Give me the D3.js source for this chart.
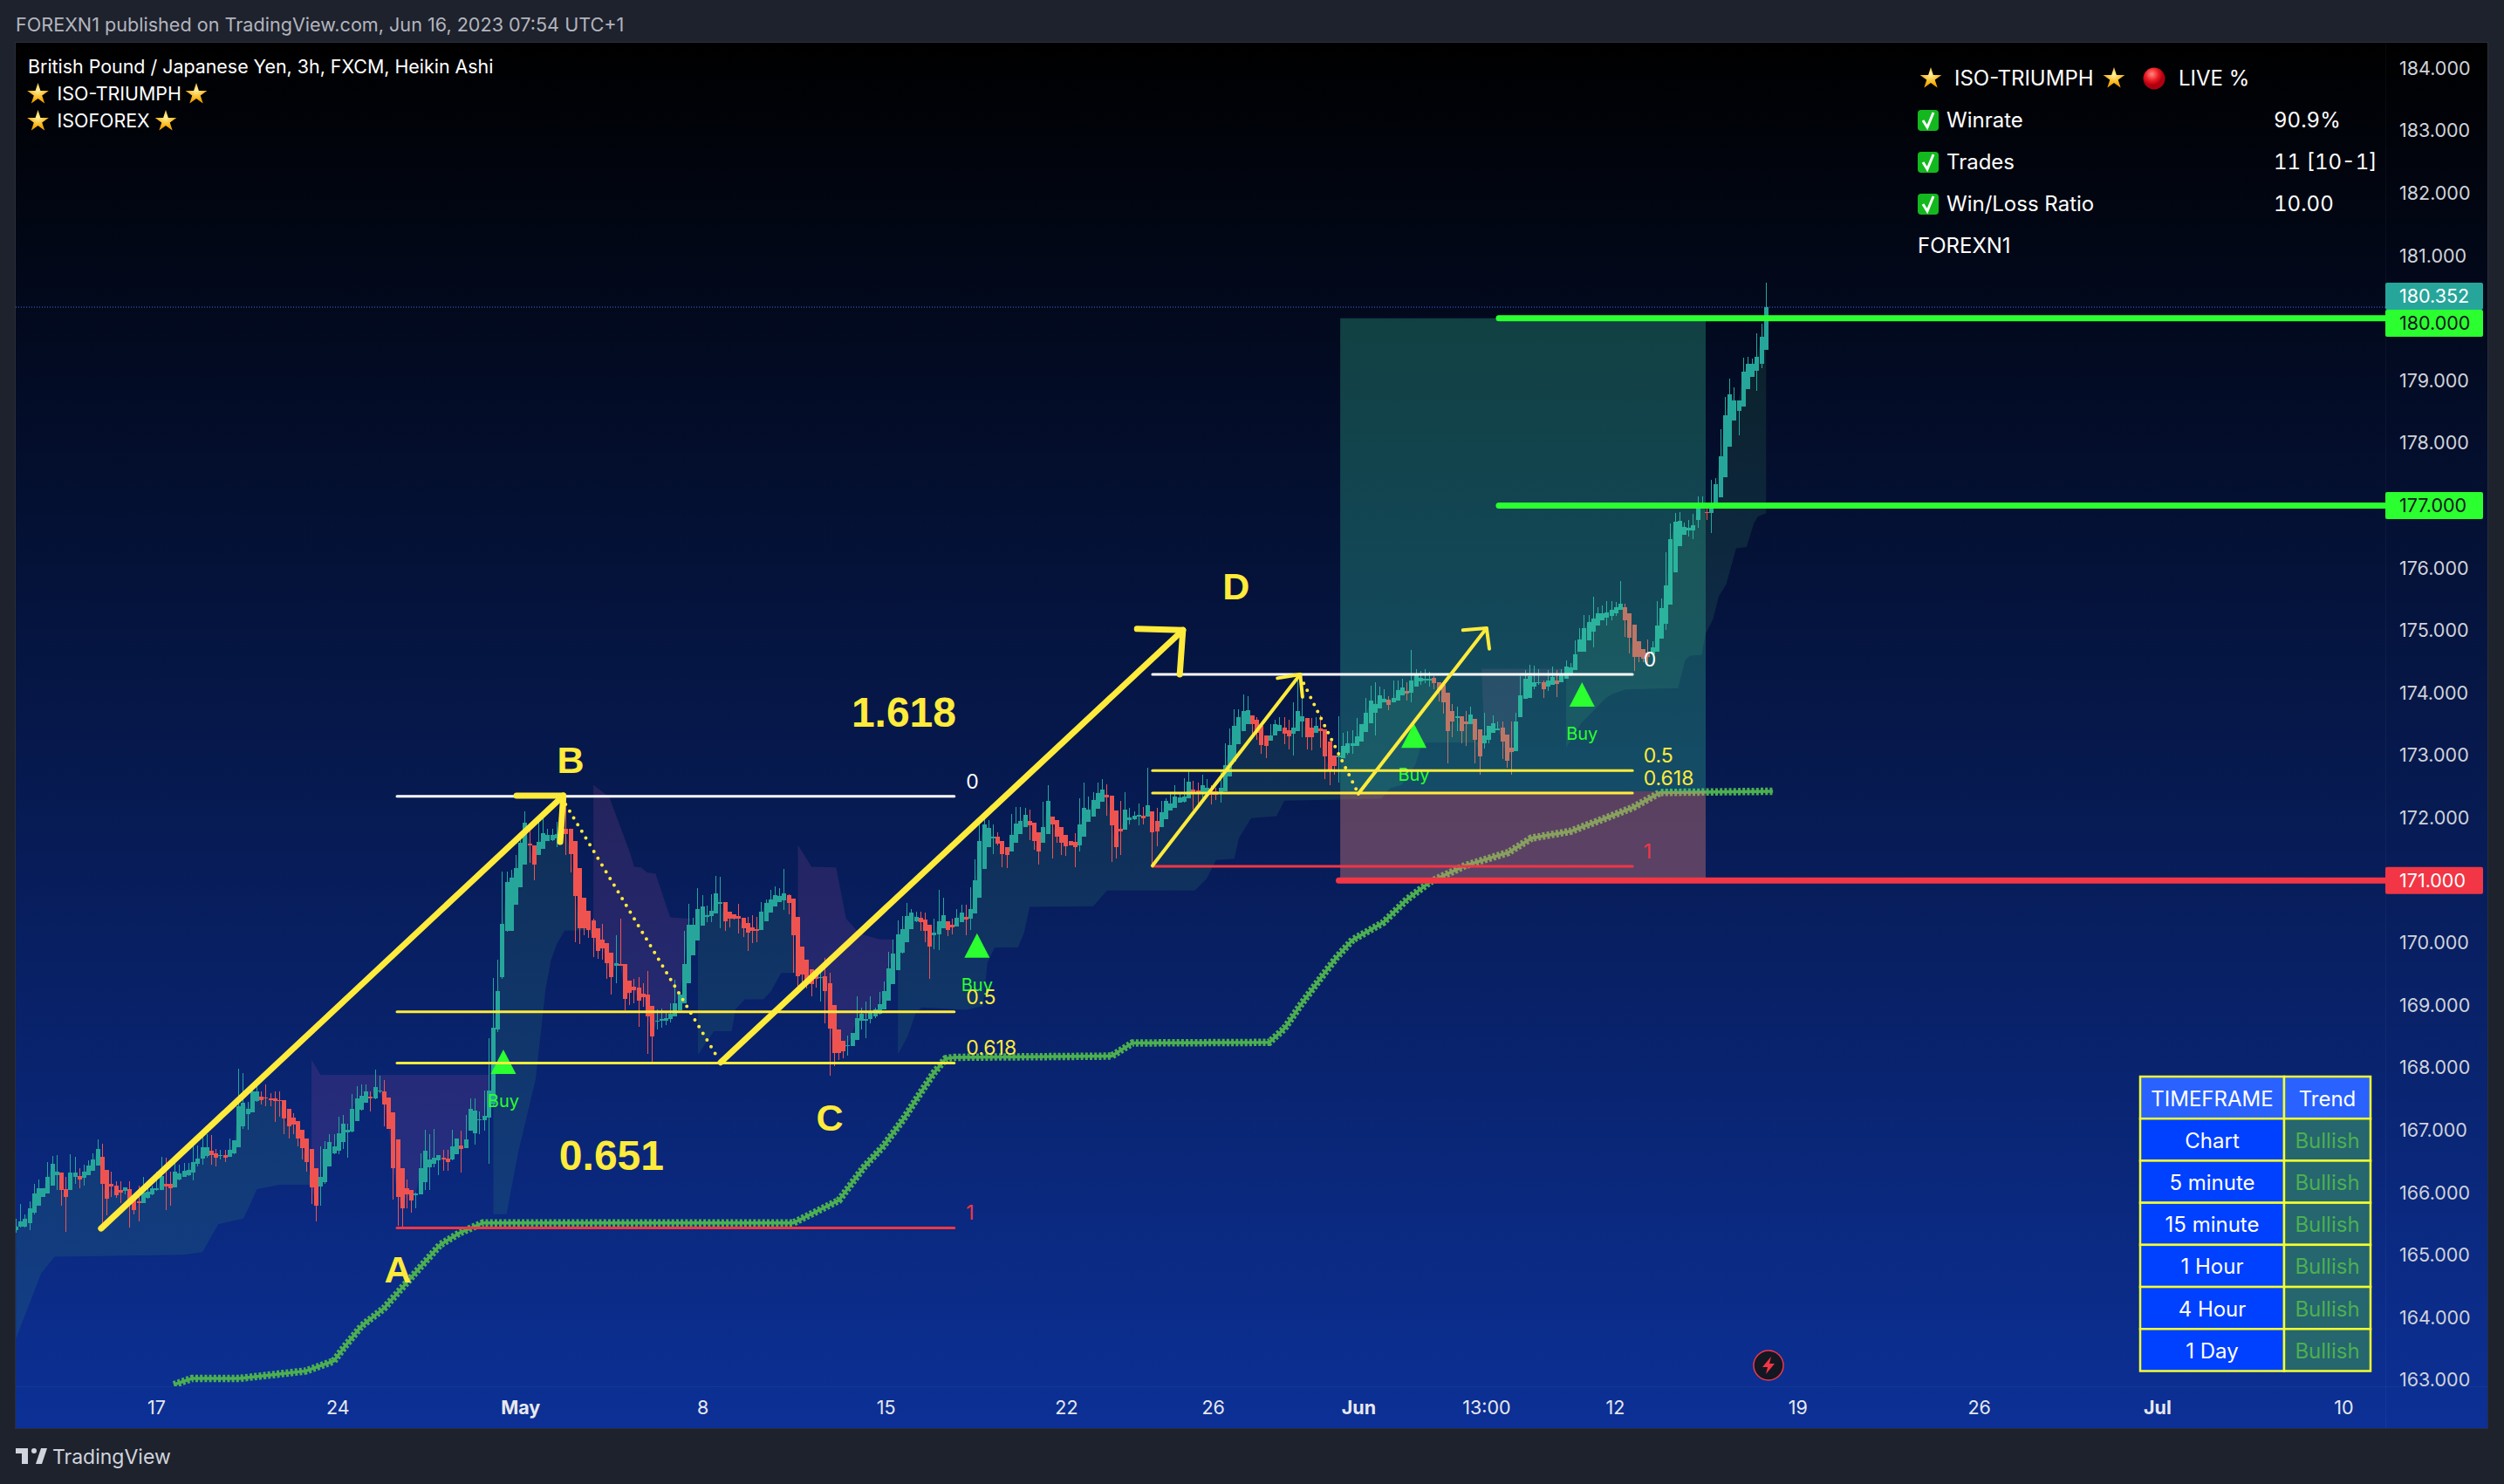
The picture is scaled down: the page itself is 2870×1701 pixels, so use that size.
<!DOCTYPE html>
<html>
<head>
<meta charset="utf-8">
<script src="https://d3js.org/d3.v7.min.js"></script>
<style>
  html, body { margin: 0; padding: 0; background: #1e222d; overflow: hidden; }
  svg { display: block; font-family: Inter, "Noto Sans", sans-serif; }
</style>
</head>
<body>
<svg id="chart" width="2870" height="1701"></svg>
<script>
// GBPJPY 3h Heikin Ashi bars, 10 bars per row
const candleOpen = [
165.38,165.43,165.43,165.49,165.65,165.77,165.91,165.96,166.09,166.25,
166.29,166.03,166.02,166.23,166.24,166.21,166.25,166.33,166.41,166.55,
166.34,166.12,166.09,166.02,166.00,166.03,165.89,165.83,165.81,165.89,
165.94,166.01,166.01,166.12,166.11,166.06,166.19,166.22,166.26,166.30,
166.44,166.52,166.56,166.64,166.60,166.57,166.58,166.55,166.61,166.70,
167.03,167.23,167.26,167.44,167.51,167.50,167.48,167.48,167.46,167.45,
167.31,167.17,167.12,166.98,166.84,166.67,166.37,166.07,166.14,166.40,
166.60,166.65,166.78,166.94,166.95,167.12,167.30,167.42,167.51,167.48,
167.59,167.60,167.50,167.26,166.82,166.37,166.04,166.01,165.93,165.94,
166.14,166.38,166.43,166.49,166.54,166.52,166.50,166.59,166.73,166.69,
166.96,166.93,167.13,167.14,167.17,167.38,168.59,169.42,170.17,170.17,
170.59,170.87,171.22,171.56,171.54,171.38,171.48,171.61,171.62,171.64,
171.66,171.80,171.80,171.60,171.17,170.69,170.49,170.33,170.21,170.03,
169.97,169.81,169.61,169.63,169.63,169.37,169.27,169.26,169.16,169.14,
168.96,168.71,168.72,168.73,168.75,168.79,168.89,169.01,169.32,169.77,
170.01,170.25,170.40,170.40,170.45,170.60,170.62,170.47,170.43,170.40,
170.37,170.29,170.22,170.19,170.18,170.32,170.46,170.56,170.63,170.66,
170.74,170.68,170.39,169.92,169.70,169.55,169.45,169.41,169.44,169.33,
168.98,168.59,168.41,168.32,168.32,168.42,168.72,168.72,168.75,168.79,
168.84,168.91,169.05,169.31,169.54,169.82,169.99,170.19,170.32,170.37,
170.35,170.26,170.09,170.11,170.20,170.32,170.26,170.24,170.31,170.39,
170.36,170.44,170.69,171.15,171.51,171.65,171.67,171.61,171.50,171.44,
171.57,171.71,171.82,171.93,171.89,171.75,171.58,171.71,171.99,171.94,
171.82,171.70,171.61,171.59,171.54,171.68,171.91,171.99,172.12,172.23,
172.34,172.33,172.09,171.80,171.79,171.94,171.95,171.99,172.01,171.99,
172.08,171.92,171.82,171.95,172.09,172.13,172.22,172.23,172.29,172.43,
172.41,172.38,172.38,172.40,172.40,172.38,172.40,172.64,172.88,173.16,
173.37,173.47,173.61,173.54,173.45,173.29,173.21,173.29,173.37,173.42,
173.38,173.32,173.37,173.52,173.57,173.42,173.33,173.40,173.39,173.20,
172.97,172.95,172.93,173.01,173.12,173.12,173.20,173.35,173.49,173.65,
173.73,173.83,173.87,173.82,173.85,173.94,174.01,173.98,174.08,174.16,
174.18,174.17,174.21,174.15,174.10,173.98,173.68,173.59,173.60,173.51,
173.47,173.56,173.39,173.17,173.22,173.34,173.39,173.42,173.31,173.10,
173.04,173.58,173.88,173.89,174.07,174.13,174.15,174.07,174.10,174.18,
174.15,174.20,174.28,174.34,174.64,174.64,174.82,174.96,175.06,175.14,
175.18,175.21,175.25,175.30,175.35,175.25,175.07,174.80,174.68,174.62,
174.59,174.64,174.85,175.08,175.39,175.91,176.33,176.51,176.57,176.58,
176.75,176.92,176.87,176.86,176.92,177.11,177.43,177.92,178.33,178.49,
178.56,178.84,179.04,179.13,179.25,179.46];
const candleClose = [
165.43,165.52,165.56,165.73,165.96,166.04,166.04,166.23,166.44,166.31,
166.01,165.90,166.29,166.30,166.18,166.31,166.41,166.50,166.68,166.12,
165.88,166.07,165.93,165.98,166.06,165.82,165.70,165.81,165.98,165.99,
166.04,166.04,166.24,166.07,166.05,166.31,166.28,166.33,166.34,166.46,
166.52,166.70,166.70,166.58,166.54,166.58,166.54,166.66,166.81,167.36,
167.42,167.32,167.59,167.59,167.46,167.48,167.46,167.44,167.44,167.16,
167.03,167.07,166.84,166.69,166.47,166.06,165.77,166.22,166.68,166.78,
166.72,166.92,167.08,166.98,167.31,167.48,167.52,167.60,167.49,167.67,
167.61,167.38,167.00,166.37,165.90,165.73,165.95,165.85,165.96,166.36,
166.65,166.50,166.54,166.58,166.50,166.47,166.72,166.84,166.67,166.82,
167.31,167.29,167.15,167.20,167.61,168.61,169.20,170.28,170.94,171.02,
171.17,171.57,171.90,171.53,171.22,171.59,171.73,171.70,171.70,171.71,
171.87,171.71,171.39,170.73,170.21,170.21,170.18,170.05,169.84,169.89,
169.65,169.42,169.65,169.62,169.07,169.18,169.22,169.05,169.11,168.79,
168.47,168.73,168.75,168.77,168.84,169.01,169.14,169.63,170.26,170.26,
170.51,170.55,170.41,170.49,170.76,170.63,170.32,170.36,170.36,170.36,
170.21,170.14,170.16,170.17,170.47,170.61,170.67,170.74,170.73,170.77,
170.61,170.09,169.44,169.47,169.38,169.31,169.40,169.43,169.20,168.60,
168.21,168.21,168.24,168.34,168.53,168.77,168.84,168.76,168.86,168.91,
168.99,169.20,169.56,169.80,170.11,170.19,170.40,170.46,170.39,170.31,
170.17,169.92,170.13,170.32,170.42,170.18,170.22,170.38,170.46,170.35,
170.51,170.98,171.61,171.87,171.81,171.67,171.56,171.39,171.38,171.70,
171.88,171.92,172.02,171.86,171.60,171.43,171.82,172.25,171.87,171.68,
171.58,171.52,171.54,171.50,171.87,172.13,172.10,172.26,172.37,172.43,
172.30,171.85,171.51,171.76,172.10,171.98,172.01,172.02,171.96,172.18,
171.75,171.76,172.06,172.24,172.20,172.31,172.30,172.31,172.55,172.37,
172.37,172.50,172.45,172.35,172.35,172.45,172.82,173.14,173.45,173.59,
173.68,173.70,173.47,173.33,173.14,173.13,173.30,173.47,173.46,173.32,
173.28,173.42,173.68,173.60,173.27,173.27,173.44,173.37,172.96,172.75,
172.81,172.97,173.13,173.17,173.17,173.28,173.47,173.65,173.85,173.80,
173.93,173.88,173.78,173.90,174.02,174.06,173.96,174.17,174.27,174.21,
174.20,174.20,174.13,174.03,173.82,173.37,173.51,173.60,173.37,173.47,
173.63,173.23,172.96,173.29,173.44,173.49,173.40,173.19,172.89,173.03,
173.51,173.93,174.20,174.24,174.15,174.15,174.03,174.17,174.23,174.12,
174.27,174.40,174.38,174.59,174.83,175.01,175.11,175.17,175.25,175.25,
175.26,175.30,175.34,175.40,175.14,174.86,174.55,174.55,174.52,174.55,
174.70,175.05,175.33,175.70,176.43,176.71,176.73,176.63,176.62,176.66,
176.94,177.01,176.86,176.92,177.32,177.76,178.42,178.75,178.66,178.66,
179.12,179.24,179.24,179.36,179.68,180.15];
const candleHigh = [
165.56,165.80,165.63,165.84,166.12,166.19,166.05,166.47,166.56,166.58,
166.29,166.22,166.59,166.55,166.36,166.42,166.49,166.61,166.83,166.76,
166.34,166.31,166.16,166.16,166.06,166.15,165.89,166.09,166.22,166.12,
166.08,166.31,166.55,166.53,166.31,166.54,166.42,166.45,166.45,166.71,
166.73,166.91,166.91,166.89,166.68,166.66,166.66,166.84,166.81,167.96,
167.89,167.43,167.68,167.71,167.60,167.70,167.57,167.59,167.60,167.45,
167.31,167.24,167.12,166.98,166.84,166.67,166.37,166.71,166.80,166.91,
166.91,167.19,167.22,167.08,167.55,167.68,167.71,167.71,167.60,167.95,
167.84,167.77,167.50,167.26,166.82,166.37,166.18,166.01,165.98,166.61,
166.98,166.91,166.99,166.58,166.66,166.66,166.98,166.84,166.96,167.22,
167.49,167.49,167.28,167.61,168.44,169.41,169.71,171.11,171.12,171.14,
171.38,171.75,172.08,171.78,171.54,171.89,171.96,171.80,171.80,171.91,
171.91,172.31,171.80,171.60,171.17,170.69,170.49,170.36,170.21,170.27,
169.97,169.81,170.09,170.36,169.63,169.37,169.40,169.42,169.32,169.52,
168.96,168.91,168.92,168.87,169.01,169.38,169.19,170.17,170.60,170.38,
170.85,170.74,170.57,170.75,171.05,171.03,170.62,170.47,170.43,170.60,
170.37,170.39,170.42,170.39,170.62,170.67,170.82,170.88,170.85,171.16,
170.75,170.68,170.39,169.92,169.70,169.55,169.47,169.52,169.73,169.50,
168.98,168.59,168.41,168.49,168.53,169.12,168.94,169.03,169.12,168.93,
169.19,169.35,169.83,170.03,170.33,170.40,170.61,170.51,170.47,170.47,
170.46,170.26,170.36,170.82,170.70,170.32,170.36,170.51,170.59,170.59,
170.87,171.31,171.89,171.96,171.94,171.87,171.74,171.61,171.50,172.03,
172.15,172.15,172.13,172.10,171.89,171.75,172.23,172.50,171.99,171.94,
171.82,171.70,171.61,171.73,172.29,172.54,172.31,172.39,172.54,172.60,
172.51,172.33,172.09,172.24,172.38,172.13,172.08,172.20,172.15,172.78,
172.08,172.13,172.24,172.29,172.36,172.50,172.37,172.61,172.75,172.57,
172.54,172.67,172.60,172.50,172.46,172.75,173.17,173.41,173.71,173.71,
173.95,173.92,173.61,173.59,173.45,173.29,173.47,173.54,173.59,173.59,
173.54,173.82,174.17,173.93,173.57,173.57,173.58,173.62,173.39,173.20,
172.97,173.60,173.34,173.37,173.38,173.57,173.47,173.90,174.09,174.15,
174.07,174.03,173.92,174.17,174.17,174.20,174.15,174.66,174.36,174.32,
174.35,174.31,174.24,174.15,174.10,173.98,173.80,173.75,173.60,173.68,
173.75,173.56,173.39,173.65,173.44,173.61,173.52,173.51,173.31,173.51,
173.65,174.24,174.34,174.42,174.41,174.35,174.17,174.34,174.40,174.34,
174.36,174.49,174.45,174.81,175.01,175.22,175.22,175.52,175.35,175.38,
175.44,175.44,175.43,175.76,175.40,175.25,175.07,174.80,174.68,174.83,
174.80,175.44,175.49,176.22,176.69,176.85,176.87,176.70,176.74,176.84,
177.12,177.12,176.94,177.39,177.41,178.19,178.71,179.01,178.87,178.66,
179.34,179.36,179.33,179.73,179.88,180.54];
const candleLow = [
165.33,165.42,165.41,165.38,165.63,165.77,165.91,165.96,166.08,166.01,
165.77,165.35,166.01,166.12,166.04,166.08,166.25,166.32,166.41,165.47,
165.61,165.91,165.89,165.81,165.94,165.41,165.63,165.51,165.81,165.88,
165.93,166.00,166.01,165.70,165.76,166.06,166.17,166.22,166.24,166.17,
166.40,166.42,166.54,166.42,166.40,166.50,166.47,166.55,166.59,166.70,
167.00,166.98,167.26,167.43,167.38,167.36,167.36,167.11,167.19,166.91,
166.84,166.91,166.71,166.50,166.31,165.79,165.51,165.77,166.12,166.40,
166.59,166.59,166.68,166.54,166.94,167.12,167.29,167.42,167.28,167.47,
167.57,167.03,167.00,165.86,165.45,165.43,165.73,165.65,165.72,165.94,
166.01,166.01,166.38,166.26,166.33,166.33,166.49,166.59,166.30,166.69,
166.96,166.75,166.91,166.96,166.43,167.35,168.55,169.40,170.15,170.17,
170.59,170.87,171.22,171.26,170.98,171.38,171.48,171.61,171.61,171.50,
171.64,171.38,171.10,169.98,169.95,170.10,170.05,169.75,169.72,169.71,
169.39,169.14,169.32,169.62,168.90,168.98,169.00,168.63,168.95,168.19,
168.04,168.59,168.61,168.66,168.70,168.79,168.89,169.01,169.32,169.77,
170.01,170.25,170.31,170.31,170.45,170.21,170.17,170.22,170.35,170.12,
170.07,169.84,169.97,169.98,170.18,170.32,170.46,170.56,170.63,170.50,
170.43,169.50,169.24,169.25,169.24,169.12,169.26,169.03,168.68,167.85,
168.00,168.10,168.12,168.17,168.32,168.42,168.58,168.44,168.68,168.77,
168.82,168.91,169.05,169.31,169.54,169.80,169.99,170.19,170.31,170.17,
169.98,169.39,169.87,169.86,170.20,170.08,170.11,170.24,170.31,170.10,
170.18,170.44,170.69,171.15,171.51,171.40,171.54,171.18,171.17,171.44,
171.57,171.71,171.82,171.62,171.46,171.23,171.58,171.71,171.32,171.58,
171.38,171.36,171.54,171.18,171.43,171.68,171.91,171.99,172.12,172.23,
172.01,171.27,171.33,171.38,171.79,171.87,171.94,171.85,171.87,171.99,
171.22,171.52,171.82,171.95,172.09,172.13,172.22,172.22,172.29,172.10,
172.19,172.29,172.38,172.19,172.26,172.22,172.40,172.64,172.88,173.16,
173.37,173.47,173.24,173.23,173.00,172.93,173.21,173.29,173.37,173.16,
173.07,172.97,173.37,173.27,173.07,173.05,173.33,173.10,172.60,172.50,
172.66,172.54,172.93,172.99,173.00,173.12,173.20,173.35,173.49,173.29,
173.73,173.82,173.70,173.82,173.85,173.93,173.85,173.82,174.08,174.10,
174.13,174.08,174.03,173.84,173.64,172.84,173.27,173.37,173.17,173.13,
173.47,172.85,172.67,173.09,173.17,173.34,173.38,172.92,172.78,172.66,
173.04,173.58,173.88,173.89,174.03,174.10,173.89,174.00,174.10,173.91,
174.15,174.20,174.24,174.34,174.64,174.64,174.82,174.71,175.06,175.14,
175.06,175.13,175.20,175.30,174.87,174.61,174.33,174.47,174.46,174.45,
174.59,174.64,174.85,174.99,175.39,175.91,176.33,176.50,176.48,176.43,
176.62,176.92,176.74,176.53,176.92,177.11,177.43,177.92,178.33,178.10,
178.56,178.84,179.04,178.81,179.18,179.46];

// trailing stop band, [bar, price] breakpoints. green sits under the closes, purple above
const greenBands = [
  [[0,163.64],[5.5,164.68],[8.5,164.95],[36.8,164.98],[41,165.02],[44.5,165.47],[50,165.56],[51.3,165.75],[53,166.03],[58,166.10],[65,166.10]],
  [[105,165.63],[107.9,165.63],[110.5,166.63],[114.3,167.79],[116.5,169.24],[117.7,169.70],[119,169.96],[120.7,170.17],[127,170.18]],
  [[150,168.18],[153.5,168.56],[157.4,168.56],[158.3,168.91],[160.3,169.07],[164.4,169.07],[166,169.19],[168.3,169.49],[171.5,169.49]],
  [[194,168.19],[196.1,168.47],[198,168.87],[199.3,168.94],[209,168.90],[212.7,168.96],[213.7,169.66],[215.3,169.90],[220.4,169.90],[221.7,170.12],[223,170.55],[237,170.56],[240,170.81],[259.3,170.81],[261.9,171.00],[264,171.30],[268,171.32],[269,171.65],[271.7,171.97],[277.3,172.00],[279,172.25],[300.4,172.28],[302.3,172.45],[304.8,172.50],[307.8,172.82],[309,173.10],[310.4,173.18],[322,173.18]],
  [[341,173.10],[344.4,173.50],[346.1,173.62],[349.7,173.89],[351.2,173.96],[354.1,174.03],[365.6,174.05],[367.2,174.50],[368.2,174.57],[370.8,174.58],[371.7,174.92],[373.3,175.15],[374.6,175.52],[376.2,175.71],[378.4,176.29],[380.7,176.31],[382.3,176.69],[383.2,176.80],[385,176.85]]
];
const purpleBands = [
  [[65,168.10],[67,167.86],[104,167.86]],
  [[127,172.50],[130.5,172.31],[135,171.43],[136,171.19],[137.5,171.18],[138.8,171.10],[140.7,171.08],[143.9,170.38],[148.4,170.36]],
  [[172,171.54],[175,171.19],[180.4,171.18],[182.6,170.36],[185.6,170.12],[190,170.03],[193,170.03]],
  [[322.4,174.36],[341,174.36]]
];
// green stepped stop line
const stopLine = [[34.7,162.90],[38.7,163.00],[49.1,163.00],[54,163.04],[63.8,163.12],[69.9,163.28],[72.3,163.51],[76,163.84],[80.9,164.12],[87.7,164.68],[93.3,165.14],[97.6,165.33],[102.7,165.49],[171,165.49],[181,165.85],[186.5,166.38],[190.8,166.72],[195.1,167.14],[198.5,167.52],[201.9,167.89],[204.5,168.12],[206.3,168.14],[241,168.16],[245.6,168.37],[275.7,168.38],[279,168.60],[282.8,169.00],[287,169.41],[290.5,169.74],[294,170.02],[300.8,170.30],[306,170.67],[311.1,170.95],[318.8,171.21],[328.3,171.42],[333.4,171.65],[342,171.76],[349.7,171.97],[355.7,172.14],[361.7,172.38],[386.5,172.40]];

// axes, 171 177 and 180 are covered by the order tags
const priceTicks = [163,164,165,166,167,168,169,170,172,173,174,175,176,178,179,181,182,183,184];
const timeBars = [30.8,70.7,110.9,151,191.3,231,263.3,295.3,323.4,351.7,391.9,431.8,471,512];
const timeLabels = ["17","24","May","8","15","22","26","Jun","13:00","12","19","26","Jul","10"];
const monthLabels = ["May","Jun","Jul"];

// drawing tools
const fibA = { bars: [83.8,206.4], labelBar: 209, prices: [172.32,168.87,168.05,165.41], ratios: ["0","0.5","0.618","1"] };
const fibB = { bars: [250,355.6], labelBar: 358, prices: [174.27,172.73,172.37,171.20], ratios: ["0","0.5","0.618","1"] };
const arrows = [
  { width: 7, shaft: [[18.7,165.40],[120.4,172.33]], head: [[110.1,172.33],[120.4,172.33],[119.7,171.59]] },
  { width: 7, shaft: [[155,168.06],[256.7,174.98]], head: [[246.6,175.00],[256.7,174.98],[256,174.27]] },
  { width: 4, shaft: [[250,171.21],[282.5,174.27]], head: [[277.5,174.21],[282.5,174.27],[283,173.91]] },
  { width: 4, shaft: [[295.3,172.36],[323.5,175.01]], head: [[318.3,174.98],[323.5,175.01],[324.1,174.68]] }
];
const dottedLegs = [
  [[120.9,172.19],[153.8,168.20]],
  [[282.5,174.24],[295.3,172.36]]
];
const waveLabels = ["A","B","C","D","0.651","1.618"];
const waveBars = [84,122,179,268.4,131,195.3];
const wavePrices = [164.74,172.90,167.18,175.68,166.57,173.67];
const buyBars = [107.2,211.4,307.5,344.5];
const buyPrices = [168.07,169.93,173.29,173.95];

const longBox = { bars: [291.3,371.7], target: 180, entry: 172.4, stop: 171 };
const levelPrices = [180,177,171];
const levelBars = [326.2,326.2,291];
const levelColors = ["#2bff2f","#2bff2f","#f23645"];
const levelText = ["#131722","#131722","#ffffff"];
const lastPrice = 180.352;
const lastCloseHA = 180.15;

// tables
const statNames = ["Winrate","Trades","Win/Loss Ratio"];
const statValues = ["90.9%","11 [10-1]","10.00"];
const trendRows = ["Chart","5 minute","15 minute","1 Hour","4 Hour","1 Day"];
const trendValues = ["Bullish","Bullish","Bullish","Bullish","Bullish","Bullish"];

const svg = d3.select("#chart");
const plot = { left: 18, right: 2734, top: 49, bottom: 1589, edge: 2851, floor: 1637 };

const x = d3.scaleLinear().domain([0, 385]).range([18.4, 2024.3]);
const y = d3.scaleLinear().domain([163, 184]).range([1580, 76.4]);
// the axis and the order lines sit a touch lower than the bars in the screenshot
const axisNudge = 2;

const defs = svg.append("defs");
const bg = defs.append("linearGradient").attr("id", "bg").attr("x1", 0).attr("x2", 0).attr("y1", 0).attr("y2", 1);
bg.append("stop").attr("offset", 0).attr("stop-color", "#000000");
bg.append("stop").attr("offset", 1).attr("stop-color", "#0c3096");
const starFill = defs.append("radialGradient").attr("id", "starFill").attr("cy", 0.35);
starFill.append("stop").attr("offset", 0).attr("stop-color", "#fff2a0");
starFill.append("stop").attr("offset", 1).attr("stop-color", "#f7a900");
const redBall = defs.append("radialGradient").attr("id", "redBall").attr("cx", 0.4).attr("cy", 0.3);
redBall.append("stop").attr("offset", 0).attr("stop-color", "#ff8a80");
redBall.append("stop").attr("offset", 0.6).attr("stop-color", "#ee1c25");
redBall.append("stop").attr("offset", 1).attr("stop-color", "#b00010");
defs.append("clipPath").attr("id", "plotClip").append("rect")
  .attr("x", plot.left).attr("y", plot.top)
  .attr("width", plot.right - plot.left).attr("height", plot.bottom - plot.top);

// panel
svg.append("rect").attr("x", plot.left - 0.5).attr("y", plot.top - 0.5)
  .attr("width", plot.edge - plot.left + 1).attr("height", plot.floor - plot.top + 1)
  .attr("fill", "url(#bg)").attr("stroke", "#2a2e39");
svg.append("line").attr("x1", plot.right + 0.5).attr("x2", plot.right + 0.5).attr("y1", plot.top).attr("y2", plot.floor)
  .attr("stroke", "rgba(255,255,255,0.04)");
svg.append("line").attr("x1", plot.left).attr("x2", plot.edge).attr("y1", plot.bottom + 0.5).attr("y2", plot.bottom + 0.5)
  .attr("stroke", "rgba(255,255,255,0.04)");

const chart = svg.append("g").attr("clip-path", "url(#plotClip)");

// band between the closes and the stop breakpoints
const polyLine = d3.line().x(d => x(d[0])).y(d => y(d[1]));
function bandPolygon(edge) {
  const first = Math.ceil(edge[0][0]);
  const last = Math.floor(edge[edge.length - 1][0]);
  const closes = candleClose.slice(first, last + 1).map((c, k) => [first + k, c]);
  return polyLine(closes.concat(edge.slice().reverse())) + "Z";
}
chart.selectAll("path.green-band").data(greenBands).join("path").attr("class", "green-band")
  .attr("d", bandPolygon).attr("fill", "rgba(70,170,110,0.15)");
chart.selectAll("path.purple-band").data(purpleBands).join("path").attr("class", "purple-band")
  .attr("d", bandPolygon).attr("fill", "rgba(210,89,171,0.14)");

// candles
const bars = chart.append("g").selectAll("g").data(candleOpen).join("g")
  .attr("fill", (d, i) => candleClose[i] >= d ? "#26a69a" : "#ef5350")
  .attr("shape-rendering", "crispEdges");
bars.append("rect")
  .attr("x", (d, i) => x(i) - 0.5).attr("width", 1)
  .attr("y", (d, i) => y(candleHigh[i]))
  .attr("height", (d, i) => y(candleLow[i]) - y(candleHigh[i]));
bars.append("rect")
  .attr("x", (d, i) => x(i) - 2.5).attr("width", 5)
  .attr("y", (d, i) => y(Math.max(d, candleClose[i])))
  .attr("height", (d, i) => Math.max(1.5, Math.abs(y(d) - y(candleClose[i]))));

// stop line, a thin core under a dashed thick stroke gives the row of crosses
chart.append("path").datum(stopLine).attr("d", polyLine).attr("fill", "none")
  .attr("stroke", "#4caf50").attr("stroke-width", 3.5);
chart.append("path").datum(stopLine).attr("d", polyLine).attr("fill", "none")
  .attr("stroke", "#4caf50").attr("stroke-width", 8.5).attr("stroke-dasharray", "3 2.2");

// last close dotted line
chart.append("line").attr("x1", plot.left).attr("x2", plot.right)
  .attr("y1", y(lastCloseHA)).attr("y2", y(lastCloseHA))
  .attr("stroke", "#3f6fe0").attr("stroke-width", 1).attr("stroke-dasharray", "1 2");

// long position box
const box = chart.append("g");
box.append("rect").attr("x", x(longBox.bars[0])).attr("width", x(longBox.bars[1]) - x(longBox.bars[0]))
  .attr("y", y(longBox.target) + axisNudge).attr("height", y(longBox.entry) - y(longBox.target) - axisNudge)
  .attr("fill", "rgba(60,215,165,0.27)");
box.append("rect").attr("x", x(longBox.bars[0])).attr("width", x(longBox.bars[1]) - x(longBox.bars[0]))
  .attr("y", y(longBox.entry)).attr("height", y(longBox.stop) - y(longBox.entry))
  .attr("fill", "rgba(242,133,123,0.36)");

// buy markers
const buyGroup = chart.append("g").selectAll("g").data(buyBars).join("g")
  .attr("transform", (d, i) => `translate(${x(d)},${y(buyPrices[i])})`);
buyGroup.append("path").attr("d", "M0,-14L14.5,14L-14.5,14Z").attr("fill", "#2bff2f");
buyGroup.append("text").attr("y", 45).attr("dy", "0.35em").attr("text-anchor", "middle")
  .attr("font-size", 20).attr("fill", "#2bff2f").text("Buy");

// fib retracements
function drawFib(fib) {
  const colors = ["#ffffff", "#ffeb3b", "#ffeb3b", "#f23645"];
  const g = chart.append("g");
  g.selectAll("line").data(fib.prices).join("line")
    .attr("x1", x(fib.bars[0])).attr("x2", x(fib.bars[1]))
    .attr("y1", d => y(d)).attr("y2", d => y(d))
    .attr("stroke", (d, i) => colors[i]).attr("stroke-width", 3).attr("stroke-linecap", "round");
  g.selectAll("text").data(fib.prices).join("text")
    .attr("x", x(fib.labelBar)).attr("y", d => y(d) - 17)
    .attr("dy", "0.35em").attr("font-size", 23).attr("fill", (d, i) => colors[i]).text((d, i) => fib.ratios[i]);
}
drawFib(fibA);
drawFib(fibB);

// hand drawn arrows
const arrowGroup = chart.append("g").selectAll("g").data(arrows).join("g")
  .attr("fill", "none").attr("stroke", "#ffeb3b").attr("stroke-linecap", "round").attr("stroke-linejoin", "round")
  .attr("stroke-width", d => d.width);
arrowGroup.append("path").attr("d", d => polyLine(d.shaft));
arrowGroup.append("path").attr("d", d => polyLine(d.head));

chart.append("g").selectAll("path").data(dottedLegs).join("path")
  .attr("d", polyLine).attr("fill", "none").attr("stroke", "#ffeb3b").attr("stroke-width", 4)
  .attr("stroke-linecap", "round").attr("stroke-dasharray", "0 9");

chart.append("g").selectAll("text").data(waveLabels).join("text")
  .attr("x", (d, i) => x(waveBars[i])).attr("y", (d, i) => y(wavePrices[i]))
  .attr("dy", "0.35em").attr("text-anchor", "middle")
  .attr("font-family", "'Liberation Sans', sans-serif").attr("font-weight", 700)
  .attr("font-size", (d, i) => i < 4 ? 43 : 48).attr("fill", "#ffeb3b").text(d => d);

// level lines run into the price axis
chart.append("g").selectAll("line").data(levelPrices).join("line")
  .attr("x1", (d, i) => x(levelBars[i])).attr("x2", plot.right + 8)
  .attr("y1", d => y(d) + axisNudge).attr("y2", d => y(d) + axisNudge)
  .attr("stroke", (d, i) => levelColors[i]).attr("stroke-width", 7).attr("stroke-linecap", "round");

// price axis
const priceAxis = svg.append("g").attr("transform", `translate(${plot.right},${axisNudge})`)
  .call(d3.axisRight(y).tickValues(priceTicks).tickSize(0).tickPadding(16).tickFormat(d3.format(".3f")));
priceAxis.select(".domain").remove();
priceAxis.selectAll("text").attr("font-family", "Inter, sans-serif").attr("font-size", 21.5).attr("fill", "#cfd2da");

// price tags, the 180 tag gets pushed down by the last price tag above it
function priceTag(price, fill, textFill, top) {
  svg.append("rect").attr("x", plot.right).attr("y", top).attr("width", 112).attr("height", 31).attr("rx", 2).attr("fill", fill);
  svg.append("text").attr("x", plot.right + 16).attr("y", top + 15.5).attr("dy", "0.35em")
    .attr("font-size", 21.5).attr("fill", textFill).text(d3.format(".3f")(price));
}
priceTag(lastPrice, "#26a69a", "#ffffff", 324);
levelPrices.forEach((p, i) => priceTag(p, levelColors[i], levelText[i], i === 0 ? 355 : y(p) + axisNudge - 15.5));

// time axis
const timeAxis = svg.append("g").attr("transform", `translate(0,${plot.bottom})`)
  .call(d3.axisBottom(x).tickValues(timeBars).tickSize(0).tickPadding(17).tickFormat((d, i) => timeLabels[i]));
timeAxis.select(".domain").remove();
timeAxis.selectAll("text").attr("font-family", "Inter, sans-serif").attr("font-size", 21.5).attr("fill", "#e6e8ee")
  .attr("font-weight", (d, i) => monthLabels.includes(timeLabels[i]) ? 700 : 400);

// header and footer
function label(px, py, str, size, fill, anchor) {
  return svg.append("text").attr("x", px).attr("y", py).attr("dy", "0.35em")
    .attr("font-size", size).attr("fill", fill).attr("text-anchor", anchor || "start").text(str);
}
function star(px, py) {
  svg.append("path").attr("d", d3.symbol(d3.symbolStar, 190)).attr("transform", `translate(${px},${py})`).attr("fill", "url(#starFill)");
}
function check(px, py) {
  svg.append("rect").attr("x", px).attr("y", py - 12).attr("width", 24).attr("height", 24).attr("rx", 4).attr("fill", "#12b81e");
  svg.append("path").attr("d", `M${px + 6},${py}L${px + 11},${py + 8}L${px + 18},${py - 9}`)
    .attr("fill", "none").attr("stroke", "#fff").attr("stroke-width", 3);
}
label(18, 28, "FOREXN1 published on TradingView.com, Jun 16, 2023 07:54 UTC+1", 21.6, "#b2b5be");
label(32, 77, "British Pound / Japanese Yen, 3h, FXCM, Heikin Ashi", 21.4, "#ffffff");
star(43.5, 108); label(65.6, 108, "ISO-TRIUMPH", 21.4, "#ffffff"); star(225, 108);
star(43.5, 139); label(65.6, 139, "ISOFOREX", 21.4, "#ffffff"); star(190, 139);

svg.append("path").attr("transform", "translate(18,1660) scale(1)")
  .attr("d", "M14 0H0v6h7v12h7V0Zm16 18h-7l6-18h7l-6 18ZM21 6a3 3 0 1 0 0-6 3 3 0 0 0 0 6Z")
  .attr("fill", "#d1d4dc");
label(60, 1670, "TradingView", 23, "#d1d4dc");

// stats block, top right
star(2213, 90); label(2240, 90, "ISO-TRIUMPH", 24, "#ffffff"); star(2423, 90);
svg.append("circle").attr("cx", 2469).attr("cy", 90).attr("r", 12.5).attr("fill", "url(#redBall)");
label(2497, 90, "LIVE %", 24, "#ffffff");
statNames.forEach((name, i) => {
  const rowY = 138 + i * 48;
  check(2198, rowY);
  label(2231, rowY, name, 24, "#ffffff");
  label(2606, rowY, statValues[i], 24, "#ffffff").style("font-variant-numeric", "tabular-nums");
});
label(2198, 282, "FOREXN1", 24, "#ffffff");

// trend table, bottom right
const tableRows = d3.scaleBand().domain(d3.range(trendRows.length + 1)).range([1234, 1571.5]);
const tableX = [2453, 2618, 2717];
const headerCells = ["TIMEFRAME", "Trend"];
const table = svg.append("g");
function cell(rowIdx, colIdx, fill, str, textFill) {
  const rowTop = tableRows(rowIdx);
  table.append("rect").attr("x", tableX[colIdx]).attr("y", rowTop)
    .attr("width", tableX[colIdx + 1] - tableX[colIdx]).attr("height", tableRows.bandwidth())
    .attr("fill", fill).attr("stroke", "#f4ff2e").attr("stroke-width", 2.5);
  table.append("text").attr("x", (tableX[colIdx] + tableX[colIdx + 1]) / 2).attr("y", rowTop + tableRows.bandwidth() / 2 + 1)
    .attr("dy", "0.35em").attr("text-anchor", "middle").attr("font-size", 24).attr("fill", textFill).text(str);
}
headerCells.forEach((h, c) => cell(0, c, "#2962ff", h, "#ffffff"));
trendRows.forEach((r, i) => {
  cell(i + 1, 0, "#0040ff", r, "#ffffff");
  cell(i + 1, 1, "#25666f", trendValues[i], "#4caf50");
});

// replay lightning badge
const bolt = svg.append("g").attr("transform", "translate(2027,1565)");
bolt.append("circle").attr("r", 17).attr("fill", "#131722").attr("stroke", "#f23645").attr("stroke-width", 1.5);
bolt.append("path").attr("d", "M3,-10L-7,2L-1,2L-3,10L7,-2L1,-2Z").attr("fill", "#f23645");
</script>
</body>
</html>
